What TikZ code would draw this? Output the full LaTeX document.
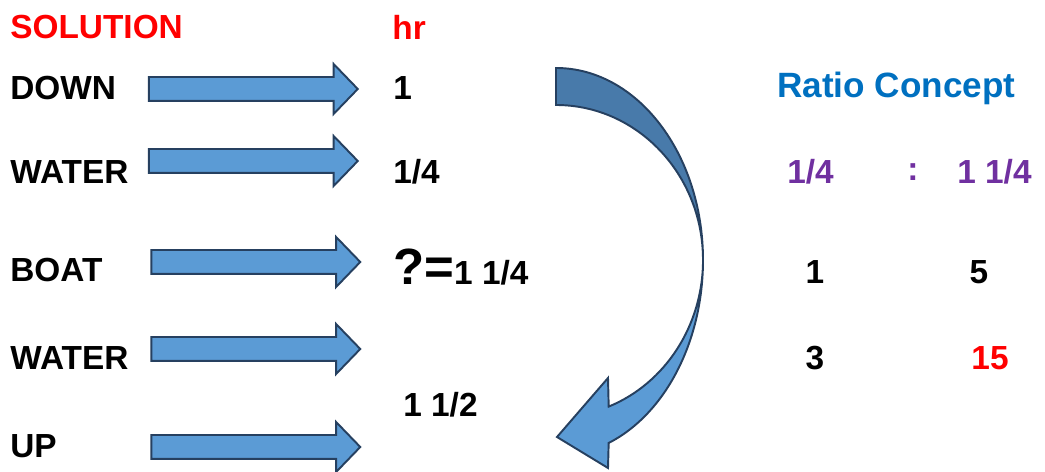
\documentclass[tikz,border=0pt]{standalone}
\usepackage{fontspec}
\setmainfont{Liberation Sans}
\usetikzlibrary{shapes.arrows}
\definecolor{arrowFill}{RGB}{91,155,213}
\definecolor{arrowDark}{RGB}{72,122,170}
\definecolor{arrowLine}{RGB}{38,64,96}
\definecolor{ratioBlue}{RGB}{0,112,192}
\definecolor{ratioPurple}{RGB}{112,48,160}
\definecolor{solRed}{RGB}{255,0,0}
\begin{document}
\begin{tikzpicture}[
    x=0.02cm, y=0.02cm,
    txt/.style={inner sep=0pt, anchor=west, font=\fontsize{19}{22}\selectfont\bfseries},
    num/.style={txt, anchor=center},
    blockArrow/.style={
        single arrow, draw=arrowLine, fill=arrowFill, line width=1.1pt,
        minimum height=4.18cm, inner sep=0.22cm,
        single arrow head extend=0.26cm, single arrow tip angle=92
    }
]
    \useasboundingbox (0,0) rectangle (1045,-472);

    % --- 1. Headings ---
    \node[txt, text=solRed] (solution) at (10,-27) {SOLUTION};
    \node[txt, text=solRed] (hr) at (392,-27) {hr};

    % --- 2. Left column with block arrows ---
    \node[txt] (down)   at (10,-88)  {DOWN};
    \node[txt] (water1) at (10,-172) {WATER};
    \node[txt] (boat)   at (10,-270) {BOAT};
    \node[txt] (water2) at (10,-358) {WATER};
    \node[txt] (up)     at (10,-446) {UP};

    \foreach \ax/\ay [count=\i] in {247.5/89, 247.5/161, 250/262, 250/349, 250/447}
        \node[blockArrow] (arr\i) at (\ax,-\ay) {};

    % --- 3. Hours ---
    \node[txt] (hDown)  at (393,-88)  {1};
    \node[txt] (hWater) at (393,-172) {1/4};
    \node[txt, anchor=base west] (hBoat) at (393,-285)
        {{\fontsize{29}{32}\selectfont ?=}1 1/4};
    \node[txt] (hUp)    at (403,-405) {1 1/2};

    % --- 4. Curved arrow ---
    \filldraw[fill=arrowDark, draw=arrowLine, line width=1.1pt]
        (556,-68) arc[start angle=90, end angle=0, x radius=147, y radius=192]
        arc[start angle=0, end angle=90, x radius=147, y radius=155]
        -- cycle;
    \filldraw[fill=arrowFill, draw=arrowLine, line width=1.1pt]
        (703,-260) arc[start angle=0, end angle=-69, x radius=147, y radius=196]
        -- (608,-468) -- (557,-437) -- (608,-378) -- (608.7,-406.6)
        arc[start angle=-69, end angle=0, x radius=147, y radius=157]
        -- cycle;

    % --- 5. Ratio concept ---
    \node[txt, text=ratioBlue, font=\fontsize{20}{23}\selectfont\bfseries] (ratio) at (777,-88) {Ratio Concept};
    \node[txt, text=ratioPurple] (rA) at (787,-172) {1/4};
    \node[num, text=ratioPurple] (colon) at (913,-172) {:};
    \node[txt, text=ratioPurple] (rB) at (957,-172) {1 1/4};
    \node[num] (r1) at (815,-272) {1};
    \node[num] (r5) at (979,-272) {5};
    \node[num] (r3) at (815,-358) {3};
    \node[num, text=solRed] (r15) at (990,-358) {15};
\end{tikzpicture}
\end{document}
